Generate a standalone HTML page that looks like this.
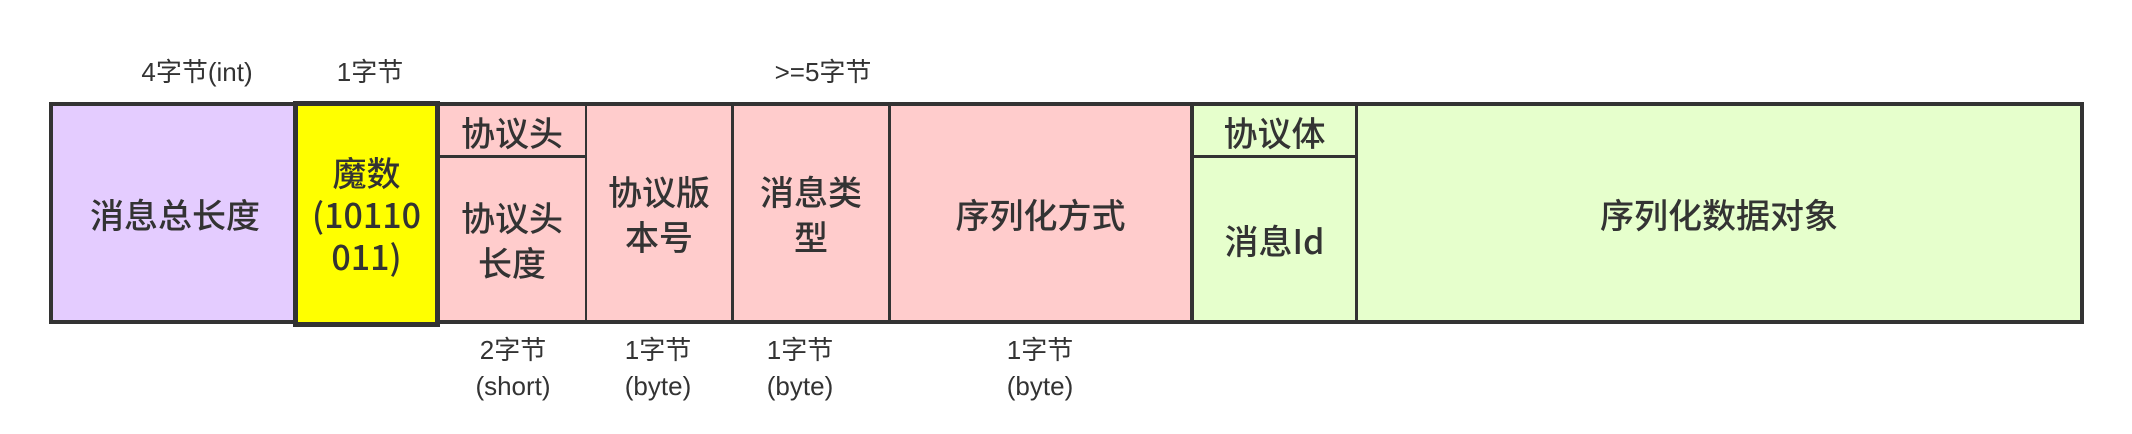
<!DOCTYPE html>
<html><head><meta charset="utf-8"><style>
html,body{margin:0;padding:0;background:#fff;}
body{width:2132px;height:434px;position:relative;overflow:hidden;font-family:"Liberation Sans","Noto Sans CJK SC",sans-serif;color:#333;}
.b{position:absolute;box-sizing:border-box;display:flex;align-items:center;justify-content:center;text-align:center;font-size:34px;line-height:45px;font-weight:500;font-family:"Noto Sans CJK SC","Liberation Sans",sans-serif;}
.t{position:absolute;font-size:26px;line-height:36px;text-align:center;width:240px;margin-left:-120px;color:#333;}
</style></head><body>
<div class="b" style="left:49px;top:102px;width:2035px;height:222px;border:4px solid #333;background:#ffcccc;"></div>
<div class="b" style="left:49px;top:102px;width:248px;height:222px;border:4px solid #333;border-right:none;background:#e4ccff;">消息总长度</div>
<div class="b" style="left:585px;top:102px;width:2px;height:222px;background:#333;"></div>
<div class="b" style="left:439px;top:155px;width:147px;height:3px;background:#333;"></div>
<div class="b" style="left:439px;top:106px;width:146px;height:50px;">协议头</div>
<div class="b" style="left:439px;top:158px;width:146px;height:162px;">协议头<br>长度</div>
<div class="b" style="left:731px;top:102px;width:3px;height:222px;background:#333;"></div>
<div class="b" style="left:587px;top:106px;width:144px;height:214px;">协议版<br>本号</div>
<div class="b" style="left:888px;top:102px;width:3px;height:222px;background:#333;"></div>
<div class="b" style="left:734px;top:106px;width:154px;height:214px;">消息类<br>型</div>
<div class="b" style="left:891px;top:106px;width:299px;height:214px;">序列化方式</div>
<div class="b" style="left:1190px;top:102px;width:894px;height:222px;border:4px solid #333;background:#e6ffcc;"></div>
<div class="b" style="left:1355px;top:102px;width:3px;height:222px;background:#333;"></div>
<div class="b" style="left:1190px;top:155px;width:166px;height:3px;background:#333;"></div>
<div class="b" style="left:1194px;top:106px;width:161px;height:50px;">协议体</div>
<div class="b" style="left:1194px;top:158px;width:161px;height:162px;">消息Id</div>
<div class="b" style="left:1358px;top:106px;width:722px;height:214px;">序列化数据对象</div>
<div class="b" style="left:293px;top:101px;width:147px;height:226px;border:5px solid #333;background:#ffff00;line-height:42px;">魔数<br>(10110<br>011)</div>
<div class="t" style="left:197px;top:54px;">4字节(int)</div>
<div class="t" style="left:370px;top:54px;">1字节</div>
<div class="t" style="left:823px;top:54px;">&gt;=5字节</div>
<div class="t" style="left:513px;top:332px;">2字节<br>(short)</div>
<div class="t" style="left:658px;top:332px;">1字节<br>(byte)</div>
<div class="t" style="left:800px;top:332px;">1字节<br>(byte)</div>
<div class="t" style="left:1040px;top:332px;">1字节<br>(byte)</div>
</body></html>
